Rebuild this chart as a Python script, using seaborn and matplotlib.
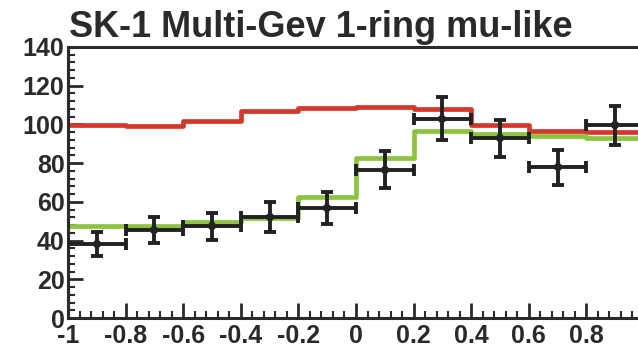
import numpy as np
import pandas as pd
import matplotlib
matplotlib.use("Agg")
import matplotlib.pyplot as plt
import seaborn as sns
from matplotlib.ticker import MultipleLocator

# ---- data ----
bin_edges = [-1.0, -0.8, -0.6, -0.4, -0.2, 0.0, 0.2, 0.4, 0.6, 0.8, 1.0]
bin_centers = [-0.9, -0.7, -0.5, -0.3, -0.1, 0.1, 0.3, 0.5, 0.7, 0.9]
mc_no_osc = [99.5, 99.0, 101.8, 106.8, 108.7, 109.0, 108.0, 99.5, 96.5, 96.0]
mc_osc = [47.3, 47.3, 49.5, 51.5, 62.5, 82.5, 96.6, 95.0, 94.0, 93.0]
data_vals = [38.4, 45.6, 47.3, 52.2, 56.9, 76.7, 103.0, 92.8, 77.8, 99.5]
data_err = [6.2, 6.8, 7.2, 7.6, 8.2, 9.5, 11.0, 9.5, 9.0, 10.0]
x_err = [0.1] * 10
title = "SK-1 Multi-Gev 1-ring mu-like"
xticks = [-1, -0.8, -0.6, -0.4, -0.2, 0, 0.2, 0.4, 0.6, 0.8]
xtick_labels = ["-1", "-0.8", "-0.6", "-0.4", "-0.2", "0", "0.2", "0.4", "0.6", "0.8"]
yticks = [0, 20, 40, 60, 80, 100, 120, 140]

sns.set_style("ticks")
plt.rcParams['font.family'] = ['Liberation Sans', 'DejaVu Sans']

W, H = 638, 347
fig = plt.figure(figsize=(W / 100, H / 100), dpi=100)
ax = fig.add_axes([68 / W, (H - 318) / H, (644 - 68) / W, (318 - 47) / H])

df = pd.DataFrame({"x": bin_centers, "no_osc": mc_no_osc, "osc": mc_osc})
sns.histplot(data=df, x="x", weights="no_osc", bins=bin_edges, element="step",
             fill=False, color="#d3392a", linewidth=3.4, ax=ax)
sns.histplot(data=df, x="x", weights="osc", bins=bin_edges, element="step",
             fill=False, color="#8cc43f", linewidth=3.4, ax=ax)

ax.errorbar(bin_centers, data_vals, yerr=data_err, xerr=x_err, fmt="none",
            ecolor="#222222", elinewidth=2.8, capsize=4.5, capthick=2.8, zorder=5)
sns.scatterplot(x=bin_centers, y=data_vals, marker="s", s=20, color="#222222",
                edgecolor="#222222", ax=ax, zorder=6)

ax.set_xlim(-1, 1)
ax.set_ylim(0, 140)
ax.set_xticks(xticks)
ax.set_xticklabels(xtick_labels)
ax.set_yticks(yticks)
ax.xaxis.set_minor_locator(MultipleLocator(0.04))
ax.yaxis.set_minor_locator(MultipleLocator(4))
ax.tick_params(axis="both", which="major", direction="in", length=11, width=2,
               labelsize=18, colors="#2a2a2a", pad=2.5)
ax.tick_params(axis="both", which="minor", direction="in", length=5, width=1.5,
               colors="#2a2a2a")
ax.tick_params(axis="x", which="major", pad=4.5)
for lbl in ax.get_xticklabels() + ax.get_yticklabels():
    lbl.set_fontweight("bold")
ax.set_xlabel("")
ax.set_ylabel("")
for s in ["left", "bottom", "top", "right"]:
    ax.spines[s].set_linewidth(2.2)
    ax.spines[s].set_color("#2a2a2a")

fig.text(69 / W, 1 - 37 / H, title, fontsize=26, fontweight="bold",
         color="#2a2a2a", ha="left", va="baseline")

fig.savefig("out.png", dpi=100)
